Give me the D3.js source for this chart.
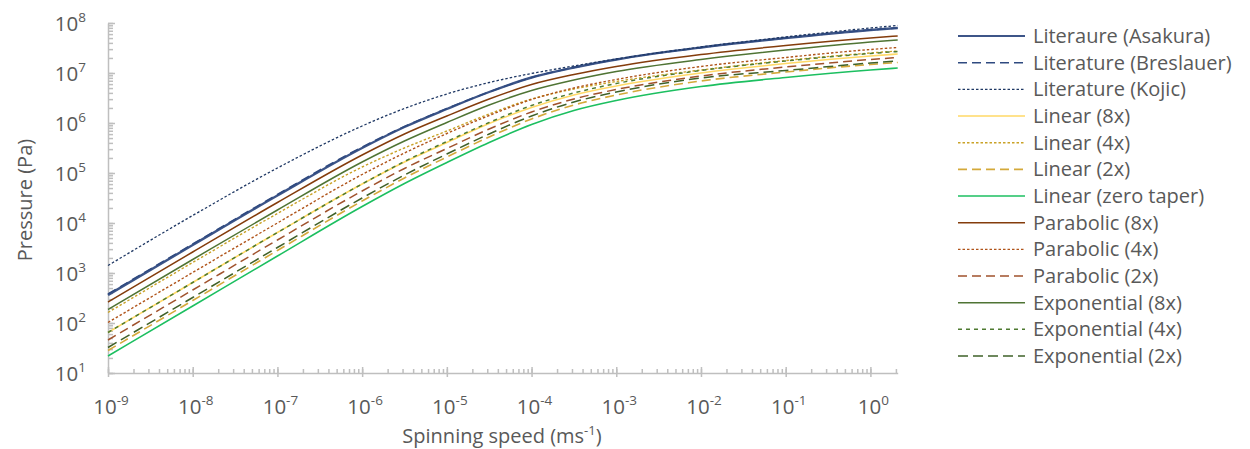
<!DOCTYPE html>
<html>
<head>
<meta charset="utf-8">
<script src="https://cdn.jsdelivr.net/npm/d3@7"></script>
<style>
  body { margin: 0; background: #fff; }
  svg { display: block; font-family: "Open Sans", Lato, sans-serif; }
  .axis path, .axis line { stroke: #bfbfbf; stroke-width: 1.5; }
  .lbl { fill: #595959; }
</style>
</head>
<body>
<div id="chart"></div>
<script>
// spinning speed (m/s) where values were read
var speeds = [1e-9, 1e-8, 1e-7, 1e-6, 3.16e-6, 1e-5, 3.16e-5, 1e-4, 3.16e-4, 1e-3, 1e-2, 1e-1, 1, 2.1];

// pressure as log10(Pa)
var asakura    = [2.56, 3.56, 4.55, 5.50, 5.92, 6.28, 6.62, 6.91, 7.11, 7.27, 7.51, 7.70, 7.86, 7.90];
var breslauer  = [2.58, 3.58, 4.57, 5.52, 5.93, 6.29, 6.62, 6.91, 7.11, 7.27, 7.51, 7.70, 7.86, 7.90];
var kojic      = [3.15, 4.15, 5.10, 5.94, 6.29, 6.58, 6.81, 6.99, 7.14, 7.28, 7.52, 7.72, 7.90, 7.95];
var linear8    = [1.81, 2.81, 3.81, 4.78, 5.22, 5.61, 5.99, 6.31, 6.56, 6.74, 7.00, 7.19, 7.34, 7.38];
var linear4    = [2.21, 3.21, 4.19, 5.12, 5.50, 5.84, 6.18, 6.48, 6.68, 6.83, 7.06, 7.25, 7.40, 7.44];
var linear2    = [1.45, 2.45, 3.45, 4.44, 4.90, 5.32, 5.72, 6.08, 6.36, 6.56, 6.84, 7.02, 7.17, 7.21];
var linearZero = [1.34, 2.34, 3.34, 4.33, 4.79, 5.21, 5.61, 5.97, 6.25, 6.45, 6.73, 6.91, 7.06, 7.10];
var parabolic8 = [2.42, 3.42, 4.41, 5.36, 5.78, 6.14, 6.48, 6.77, 6.97, 7.13, 7.37, 7.55, 7.70, 7.74];
var parabolic4 = [2.01, 3.01, 4.00, 4.97, 5.40, 5.79, 6.15, 6.47, 6.70, 6.87, 7.13, 7.31, 7.47, 7.51];
var parabolic2 = [1.66, 2.66, 3.66, 4.64, 5.09, 5.49, 5.88, 6.22, 6.48, 6.67, 6.94, 7.12, 7.27, 7.31];
var expo8      = [2.27, 3.27, 4.26, 5.22, 5.64, 6.01, 6.36, 6.65, 6.86, 7.03, 7.27, 7.46, 7.62, 7.66];
var expo4      = [1.81, 2.81, 3.81, 4.78, 5.23, 5.63, 6.01, 6.35, 6.60, 6.79, 7.05, 7.24, 7.39, 7.43];
var expo2      = [1.51, 2.51, 3.51, 4.50, 4.96, 5.38, 5.78, 6.14, 6.42, 6.62, 6.90, 7.05, 7.20, 7.24];

// tick exponents
var xExps = [-9, -8, -7, -6, -5, -4, -3, -2, -1, 0];
var yExps = [1, 2, 3, 4, 5, 6, 7, 8];

var series = [
  {name: "Literaure (Asakura)",   values: asakura,    color: "#3d5588", dash: null,    w: 2.4},
  {name: "Literature (Breslauer)", values: breslauer, color: "#2f4a80", dash: "9,5",   w: 1.5},
  {name: "Literature (Kojic)",    values: kojic,      color: "#1f3864", dash: "2.5,2", w: 1.3},
  {name: "Linear (8x)",           values: linear8,    color: "#ffd966", dash: null,    w: 1.6},
  {name: "Linear (4x)",           values: linear4,    color: "#c9a227", dash: "2.5,2", w: 1.4},
  {name: "Linear (2x)",           values: linear2,    color: "#d4a93a", dash: "9,5",   w: 1.6},
  {name: "Linear (zero taper)",   values: linearZero, color: "#1cbf60", dash: null,    w: 1.6},
  {name: "Parabolic (8x)",        values: parabolic8, color: "#843c0c", dash: null,    w: 1.5},
  {name: "Parabolic (4x)",        values: parabolic4, color: "#b0541a", dash: "2.5,2", w: 1.4},
  {name: "Parabolic (2x)",        values: parabolic2, color: "#a0522d", dash: "9,5",   w: 1.5},
  {name: "Exponential (8x)",      values: expo8,      color: "#4f7434", dash: null,    w: 1.5},
  {name: "Exponential (4x)",      values: expo4,      color: "#4e7a30", dash: "4,4",   w: 1.5},
  {name: "Exponential (2x)",      values: expo2,      color: "#3f6129", dash: "10,5",  w: 1.5}
];

var width = 1250, height = 449;
var svg = d3.select("#chart").append("svg")
  .attr("width", width)
  .attr("height", height);

var x = d3.scaleLog().domain([1e-9, 2.1]).range([108, 897.7]);
var y = d3.scaleLog().domain([10, 1e8]).range([373, 23]);

// minor ticks 2..9 in every decade
var minorX = [], minorY = [];
xExps.forEach(function(e){
  for (var k = 1; k < 10; k++) {
    var v = k * Math.pow(10, e);
    if (v <= 2.1) minorX.push(v);
  }
});
yExps.forEach(function(e){
  if (e == 8) { minorY.push(1e8); return; }
  for (var k = 1; k < 10; k++) minorY.push(k * Math.pow(10, e));
});

// x axis: minor ticks inside, major ticks crossing
var gxTop = svg.append("g").attr("class", "axis")
  .attr("transform", "translate(0,373)")
  .call(d3.axisTop(x).tickValues(minorX).tickSize(4).tickSizeOuter(0).tickFormat(""));
var gxMaj = svg.append("g").attr("class", "axis")
  .attr("transform", "translate(0,373)")
  .call(d3.axisBottom(x).tickValues(xExps.map(function(e){ return Math.pow(10, e); }))
    .tickSize(4).tickSizeOuter(0).tickFormat(""));
gxMaj.selectAll(".tick line").attr("y1", -6);

// y axis
var gyIn = svg.append("g").attr("class", "axis")
  .attr("transform", "translate(108,0)")
  .call(d3.axisRight(y).tickValues(minorY).tickSize(5).tickSizeOuter(0).tickFormat(""));
var gyMaj = svg.append("g").attr("class", "axis")
  .attr("transform", "translate(108,0)")
  .call(d3.axisLeft(y).tickValues(yExps.map(function(e){ return Math.pow(10, e); }))
    .tickSize(8).tickSizeOuter(0).tickFormat(""));
gyMaj.selectAll(".tick line").attr("x2", 7);
gyIn.select(".domain").remove();
gxTop.select(".domain").remove();

// tick labels as 10 with superscript
xExps.forEach(function(e){
  var t = svg.append("text").attr("class", "lbl")
    .attr("x", x(Math.pow(10, e)) + 3).attr("y", 414)
    .attr("text-anchor", "middle")
    .style("font-size", "20.5px");
  t.append("tspan").text("10");
  t.append("tspan").attr("dy", -9).style("font-size", "13.5px").text(e);
});
yExps.forEach(function(e){
  var t = svg.append("text").attr("class", "lbl")
    .attr("x", 86).attr("y", y(Math.pow(10, e)) + 8)
    .attr("text-anchor", "end")
    .style("font-size", "20.5px");
  t.append("tspan").text("10");
  t.append("tspan").attr("dy", -9).style("font-size", "13.5px").text(e);
});

// axis titles
var xt = svg.append("text").attr("class", "lbl")
  .attr("x", 502).attr("y", 443)
  .attr("text-anchor", "middle")
  .style("font-size", "20px");
xt.append("tspan").text("Spinning speed (ms");
xt.append("tspan").attr("dy", -8).style("font-size", "13px").text("-1");
xt.append("tspan").attr("dy", 8).text(")");

svg.append("text").attr("class", "lbl")
  .attr("transform", "translate(32,200) rotate(-90)")
  .attr("text-anchor", "middle")
  .style("font-size", "20px")
  .text("Pressure (Pa)");

// the curves
var line = d3.line()
  .x(function(d){ return x(d[0]); })
  .y(function(d){ return y(Math.pow(10, d[1])); })
  .curve(d3.curveMonotoneX);

var plot = svg.append("g");
series.forEach(function(s){
  var pts = speeds.map(function(v, i){ return [v, s.values[i]]; });
  plot.append("path")
    .attr("d", line(pts))
    .attr("fill", "none")
    .attr("stroke", s.color)
    .attr("stroke-width", s.w)
    .attr("stroke-dasharray", s.dash);
});

// legend
var legend = svg.append("g");
series.forEach(function(s, i){
  var ly = 36 + i * 26.67;
  legend.append("line")
    .attr("x1", 958).attr("x2", 1025)
    .attr("y1", ly).attr("y2", ly)
    .attr("stroke", s.color)
    .attr("stroke-width", Math.min(s.w, 2))
    .attr("stroke-dasharray", s.dash);
  legend.append("text").attr("class", "lbl")
    .attr("x", 1033).attr("y", ly)
    .attr("dy", "0.35em")
    .style("font-size", "20px")
    .text(s.name);
});
</script>
</body>
</html>
